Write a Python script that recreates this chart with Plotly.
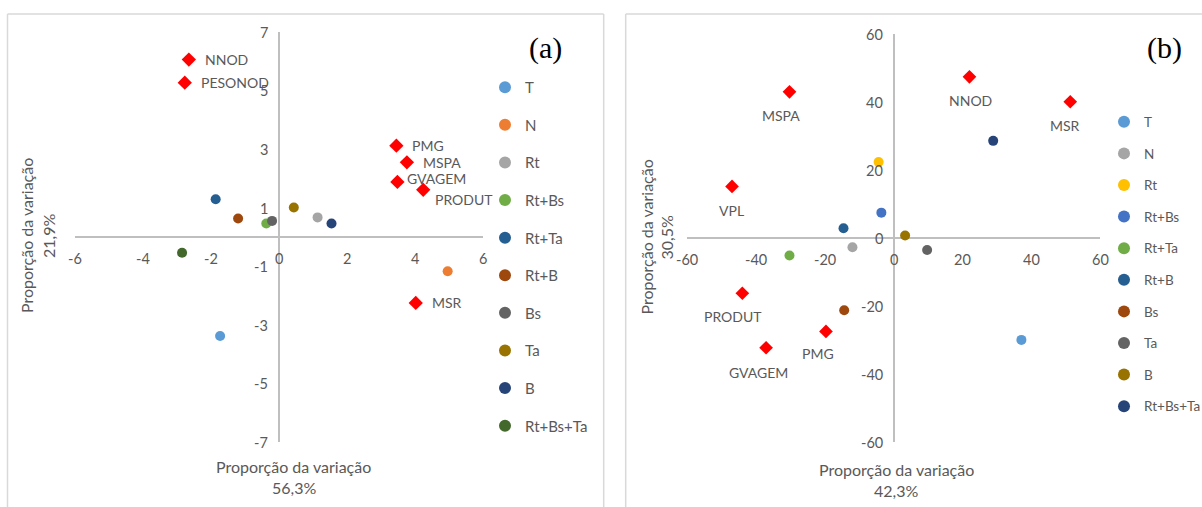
import plotly.graph_objects as go

# ---------------- data ----------------
series_a = ["T", "N", "Rt", "Rt+Bs", "Rt+Ta", "Rt+B", "Bs", "Ta", "B", "Rt+Bs+Ta"]
x_a = [-1.74, 4.96, 1.13, -0.38, -1.87, -1.21, -0.21, 0.43, 1.54, -2.86]
y_a = [-3.37, -1.16, 0.68, 0.47, 1.30, 0.64, 0.56, 1.02, 0.47, -0.53]
colors_a = ["#5B9BD5", "#ED7D31", "#A5A5A5", "#70AD47", "#255E91",
            "#9E480E", "#636363", "#997300", "#264478", "#43682B"]

vars_a = ["NNOD", "PESONOD", "PMG", "MSPA", "GVAGEM", "PRODUT", "MSR"]
vx_a = [-2.66, -2.78, 3.45, 3.76, 3.48, 4.24, 4.02]
vy_a = [6.07, 5.28, 3.13, 2.56, 1.89, 1.62, -2.24]

series_b = ["T", "N", "Rt", "Rt+Bs", "Rt+Ta", "Rt+B", "Bs", "Ta", "B", "Rt+Bs+Ta"]
x_b = [37.1, -12.0, -4.4, -3.6, -30.3, -14.6, -14.4, 9.7, 3.3, 28.9]
y_b = [-29.9, -2.65, 22.4, 7.5, -5.1, 2.9, -21.2, -3.5, 0.8, 28.6]
colors_b = ["#5B9BD5", "#A5A5A5", "#FFC000", "#4472C4", "#70AD47",
            "#255E91", "#9E480E", "#636363", "#997300", "#264478"]

vars_b = ["NNOD", "MSR", "MSPA", "VPL", "PRODUT", "PMG", "GVAGEM"]
vx_b = [22.0, 51.3, -30.3, -47.0, -44.0, -19.7, -37.1]
vy_b = [47.4, 40.1, 43.0, 15.2, -16.2, -27.4, -32.2]

xticks_a = [-6, -4, -2, 0, 2, 4, 6]
yticks_a = [7, 5, 3, 1, -1, -3, -5, -7]
xticks_b = [-60, -40, -20, 0, 20, 40, 60]
yticks_b = [60, 40, 20, 0, -20, -40, -60]

xtitle_a = ["Proporção da variação", "56,3%"]
ytitle_a = ["Proporção da variação", "21,9%"]
xtitle_b = ["Proporção da variação", "42,3%"]
ytitle_b = ["Proporção da variação", "30,5%"]

# ---------------- style ----------------
W, H = 1202, 507
FONT = "Lato"
TXT = "#595959"
AXC = "#BFBFBF"
f_tick = dict(family=FONT, size=14.5, color=TXT)
f_lab = dict(family=FONT, size=14, color=TXT)
f_title = dict(family=FONT, size=16, color=TXT)
f_leg = dict(family=FONT, size=15, color=TXT)
f_leg2 = dict(family=FONT, size=13.5, color=TXT)

def px(v):
    return v / W

def py(v):
    return (H - v) / H

# label offsets (style) for variable labels
lab_a = {"NNOD": (14, 0), "PESONOD": (14, 0), "PMG": (14, 0), "MSPA": (14, 0),
         "GVAGEM": (8, 3), "PRODUT": (10, -10), "MSR": (14, 0)}
lab_b = {"NNOD": (1, -24), "MSR": (-5, -24), "MSPA": (-8, -24), "VPL": (-1, -24),
         "PRODUT": (-9, -23), "PMG": (-8, -22), "GVAGEM": (-8, -25)}

fig = go.Figure()

for name, xv, yv, c in zip(series_a, x_a, y_a, colors_a):
    fig.add_trace(go.Scatter(x=[xv], y=[yv], mode="markers", name=name,
                             marker=dict(color=c, size=10, symbol="circle"),
                             xaxis="x", yaxis="y", legend="legend",
                             legendgroup="a_" + name))
fig.add_trace(go.Scatter(x=vx_a, y=vy_a, mode="markers", showlegend=False,
                         marker=dict(color="#FF0000", size=11, symbol="diamond"),
                         xaxis="x", yaxis="y"))

for name, xv, yv, c in zip(series_b, x_b, y_b, colors_b):
    fig.add_trace(go.Scatter(x=[xv], y=[yv], mode="markers", name=name,
                             marker=dict(color=c, size=10, symbol="circle"),
                             xaxis="x2", yaxis="y2", legend="legend2",
                             legendgroup="b_" + name))
fig.add_trace(go.Scatter(x=vx_b, y=vy_b, mode="markers", showlegend=False,
                         marker=dict(color="#FF0000", size=10.5, symbol="diamond"),
                         xaxis="x2", yaxis="y2"))

ann = []

def tick_ann(xr, yr, xt, yt):
    for t in xt:
        ann.append(dict(x=t, y=0, xref=xr, yref=yr, text=str(t), showarrow=False,
                        xanchor="center", yanchor="middle", yshift=-21, font=f_tick))
    for t in yt:
        ann.append(dict(x=0, y=t, xref=xr, yref=yr, text=str(t), showarrow=False,
                        xanchor="right", yanchor="middle", xshift=-9, font=f_tick))

tick_ann("x", "y", xticks_a, yticks_a)
tick_ann("x2", "y2", xticks_b, yticks_b)

for n, xv, yv in zip(vars_a, vx_a, vy_a):
    dx, dy = lab_a[n]
    ann.append(dict(x=xv, y=yv, xref="x", yref="y", text=n, showarrow=False,
                    xanchor="left", yanchor="middle", xshift=dx, yshift=dy, font=f_lab))
for n, xv, yv in zip(vars_b, vx_b, vy_b):
    dx, dy = lab_b[n]
    ann.append(dict(x=xv, y=yv, xref="x2", yref="y2", text=n, showarrow=False,
                    xanchor="center", yanchor="middle", xshift=dx, yshift=dy, font=f_lab))

# axis titles
def t_ann(text, x, y, angle=0):
    ann.append(dict(x=px(x), y=py(y), xref="paper", yref="paper", text=text,
                    showarrow=False, xanchor="center", yanchor="middle",
                    textangle=angle, font=f_title))

t_ann(xtitle_a[0], 293.7, 466)
t_ann(xtitle_a[1], 293.5, 487.5)
t_ann(ytitle_a[0], 26, 236, -90)
t_ann(ytitle_a[1], 48, 236, -90)
t_ann(xtitle_b[0], 896.4, 469.3)
t_ann(xtitle_b[1], 896, 490.7)
t_ann(ytitle_b[0], 646, 237.5, -90)
t_ann(ytitle_b[1], 666, 237.5, -90)

# panel tags
ann.append(dict(x=px(545), y=py(48), xref="paper", yref="paper", text="(a)",
                showarrow=False, xanchor="center", yanchor="middle",
                font=dict(family="Liberation Serif", size=30, color="#000000")))
ann.append(dict(x=px(1164), y=py(48), xref="paper", yref="paper", text="(b)",
                showarrow=False, xanchor="center", yanchor="middle",
                font=dict(family="Liberation Serif", size=30, color="#000000")))

# panel borders (kept inside the figure)
BC = "#D9D9D9"
shapes = []
for x0 in [7.5, 603.7, 625.7]:
    shapes.append(dict(type="line", xref="paper", yref="paper",
                       x0=px(x0), x1=px(x0), y0=py(14), y1=0,
                       line=dict(color=BC, width=1.5)))
for (x0, x1) in [(7.5, 603.7), (625.7, W)]:
    shapes.append(dict(type="line", xref="paper", yref="paper",
                       x0=px(x0), x1=px(x1), y0=py(14), y1=py(14),
                       line=dict(color=BC, width=1.5)))

ax_common = dict(showgrid=False, zeroline=True, zerolinecolor=AXC, zerolinewidth=1.5,
                 showticklabels=False, ticks="", showline=False, fixedrange=True)

leg_common = dict(bgcolor="rgba(0,0,0,0)",
                  traceorder="grouped", xanchor="left", yanchor="top",
                  itemsizing="constant", borderwidth=0)

fig.update_layout(
    width=W, height=H,
    margin=dict(l=0, r=0, t=0, b=0, autoexpand=False),
    paper_bgcolor="white", plot_bgcolor="rgba(0,0,0,0)",
    xaxis=dict(domain=[px(75.4), px(483.0)], range=[-6, 6], anchor="y", **ax_common),
    yaxis=dict(domain=[py(442.3), py(32.3)], range=[-7, 7], anchor="x", **ax_common),
    xaxis2=dict(domain=[px(687.3), px(1100.2)], range=[-60, 60], anchor="y2", **ax_common),
    yaxis2=dict(domain=[py(442.3), py(34)], range=[-60, 60], anchor="x2", **ax_common),
    legend=dict(x=px(485), y=py(71), tracegroupgap=15.1, font=f_leg, **leg_common),
    legend2=dict(x=px(1104), y=py(106.5), tracegroupgap=11.05, font=f_leg2, **leg_common),
    annotations=ann,
    shapes=shapes,
    showlegend=True,
)

fig.write_html("out.html",
               config={"displayModeBar": False, "responsive": False},
               post_script="document.body.style.margin='0';document.body.style.padding='0';"
                           "document.documentElement.style.overflow='hidden';")
